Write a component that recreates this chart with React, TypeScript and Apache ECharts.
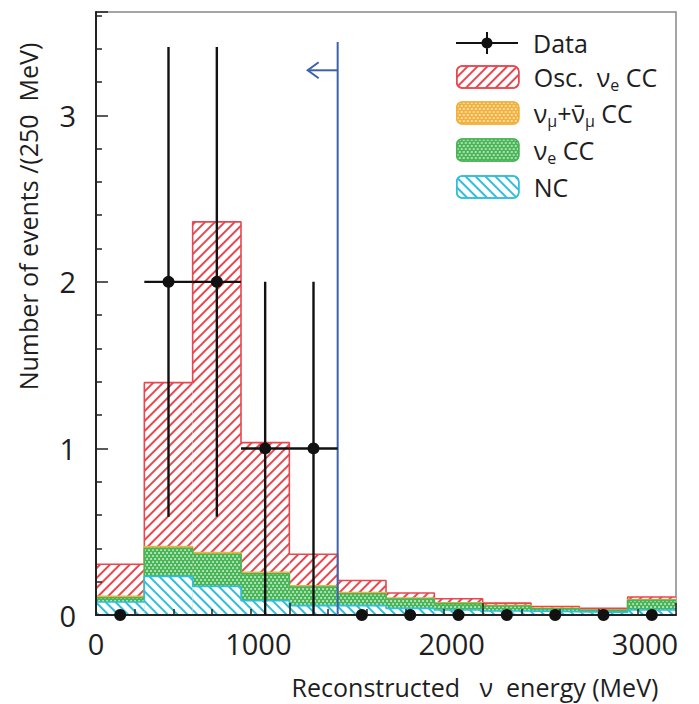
import React, { useEffect, useRef } from 'react';
import * as echarts from 'echarts';

// ---- data ----
const binStart = [0, 250, 500, 750, 1000, 1250, 1500, 1750, 2000, 2250, 2500, 2750];
const BIN = 250;
// cumulative (stacked) heights, events / 250 MeV
const oscTotal = [0.305, 1.395, 2.36, 1.035, 0.365, 0.207, 0.132, 0.098, 0.071, 0.051, 0.04, 0.108];
const numuTop = [0.112, 0.411, 0.375, 0.256, 0.176, 0.135, 0.102, 0.073, 0.058, 0.041, 0.031, 0.093];
const nueTop = [0.104, 0.4, 0.365, 0.248, 0.168, 0.128, 0.096, 0.068, 0.054, 0.037, 0.028, 0.088];
const ncTop = [0.078, 0.232, 0.172, 0.086, 0.056, 0.057, 0.04, 0.03, 0.024, 0.02, 0.016, 0.03];
const dataCounts = [0, 2, 2, 1, 1, 0, 0, 0, 0, 0, 0, 0];
const dataLow = [0, 0.59, 0.59, 0, 0, 0, 0, 0, 0, 0, 0, 0];
const dataHigh = [0, 3.41, 3.41, 2, 2, 0, 0, 0, 0, 0, 0, 0];
const cutEnergy = [1250];
const cutTop = [3.44];
const arrowLevel = [3.27];
const arrowTip = [1095];

const legendNames = ['Data', 'Osc. νe CC', 'νμ+ν̄μ CC', 'νe CC', 'NC'];
const legendLabels: Record<string, string> = {
  'Data': 'Data',
  'Osc. νe CC': 'Osc.  ν{s|e} CC',
  'νμ+ν̄μ CC': 'ν{s|μ}+ν\u0304{s|μ} CC',
  'νe CC': 'ν{s|e} CC',
  'NC': 'NC',
};

const FONT = '"Open Sans", "Noto Sans", "DejaVu Sans", sans-serif';
const TXT = '#1e1e1e';

const RED = '#e8474f';
const ORANGE = '#f2b13c';
const GREEN = '#48b656';
const CYAN = '#2fbedc';

function barData(vals: number[]) {
  return vals.map((v, i) => [binStart[i] + BIN / 2, v]);
}
function stepData(vals: number[]) {
  const pts: number[][] = vals.map((v, i) => [binStart[i], v]);
  const last = vals.length - 1;
  pts.push([binStart[last] + BIN, vals[last]]);
  return pts;
}

const hatch = (color: string, rot: number) => ({
  symbol: 'rect',
  symbolSize: 1,
  color,
  dashArrayX: [1, 0],
  dashArrayY: [1.6, 4.2],
  rotation: rot,
});
const dots = {
  symbol: 'circle',
  symbolSize: 0.9,
  color: 'rgba(255,255,255,0.75)',
  dashArrayX: [[2, 2], [0, 2, 2, 0]],
  dashArrayY: [2, 0.6],
  rotation: 0,
};

function histo(name: string, vals: number[], base: string, decal: any, line: string, z: number) {
  return [
    {
      name,
      type: 'bar',
      data: barData(vals),
      barWidth: '100%',
      barGap: '-100%',
      itemStyle: { color: base, decal },
      z,
      silent: true,
    },
    {
      name: name + ' outline',
      type: 'line',
      step: 'end',
      data: stepData(vals),
      showSymbol: false,
      lineStyle: { color: line, width: 1.6 },
      z: z + 1,
      silent: true,
    },
  ];
}

const legendTops = [27, 61, 97, 134, 171];

export default function App() {
  const ref = useRef<HTMLDivElement>(null);
  useEffect(() => {
    const chart = echarts.init(ref.current!, null, { renderer: 'svg' });
    const option: any = {
      animation: false,
      backgroundColor: '#fff',
      textStyle: { fontFamily: FONT },
      grid: { left: 96, right: 23, top: 12, bottom: 88, show: true, borderColor: '#888', borderWidth: 1.5, backgroundColor: 'transparent' },
      xAxis: {
        type: 'value',
        min: 0,
        max: 3000,
        interval: 1000,
        z: 20,
        name: 'Reconstructed   ν  energy (MeV)',
        nameLocation: 'middle',
        nameGap: 59,
        nameTextStyle: { fontSize: 25, color: TXT, fontFamily: FONT, padding: [0, 0, 0, 178] },
        axisLine: { lineStyle: { color: '#222', width: 2 } },
        axisTick: { inside: true, length: 12, lineStyle: { color: '#222', width: 1.5 } },
        minorTick: { show: true, splitNumber: 5, length: 6, lineStyle: { color: '#222', width: 1.5 } },
        splitLine: { show: false },
        axisLabel: {
          margin: 14,
          formatter: (v: number) => (v === 0 ? '{z|0}' : '{r|' + v + '}'),
          rich: {
            z: { fontSize: 29, color: TXT, fontFamily: FONT },
            r: { fontSize: 29, color: TXT, fontFamily: FONT, padding: [0, 62, 0, 0] },
          },
        },
      },
      yAxis: {
        type: 'value',
        min: 0,
        max: 3.62,
        interval: 1,
        z: 20,
        name: 'Number of events /(250  MeV)',
        nameLocation: 'middle',
        nameRotate: 90,
        nameGap: 56,
        nameTextStyle: { fontSize: 25, color: TXT, fontFamily: FONT, padding: [0, 0, 0, 194] },
        axisLine: { lineStyle: { color: '#222', width: 2 } },
        axisTick: { inside: true, length: 12, lineStyle: { color: '#222', width: 1.5 } },
        minorTick: { show: true, splitNumber: 5, length: 6, lineStyle: { color: '#222', width: 1.5 } },
        splitLine: { show: false },
        axisLabel: {
          margin: 20,
          fontSize: 29,
          color: TXT,
          fontFamily: FONT,
          showMaxLabel: false,
          formatter: (v: number) => (Number.isInteger(v) ? String(v) : ''),
        },
      },
      legend: legendNames.map((n, i) => ({
        selectedMode: false,
        left: 456,
        top: legendTops[i],
        orient: 'vertical',
        itemWidth: 62,
        itemHeight: 22,
        itemGap: 0,
        padding: 0,
        data: [
          i === 0
            ? { name: n, icon: 'path://M0,10H62V12H0Z M30,0H32V22H30Z M31,5.5A5.5,5.5 0 1,1 30.99,5.5Z', itemStyle: { color: '#111' } }
            : { name: n, itemStyle: { borderColor: [RED, RED, ORANGE, GREEN, CYAN][i], borderWidth: 1.5 } },
        ],
        formatter: (name: string) => legendLabels[name],
        textStyle: {
          fontSize: 25,
          color: TXT,
          fontFamily: FONT,
          lineHeight: 32,
          padding: [0, 0, 0, 10],
          rich: {
            s: { fontSize: 16, color: TXT, fontFamily: FONT, verticalAlign: 'bottom', lineHeight: 16 },
          },
        },
      })),
      series: [
        ...histo('Osc. νe CC', oscTotal, '#fff', hatch(RED, -Math.PI / 4), RED, 1),
        ...histo('νμ+ν̄μ CC', numuTop, ORANGE, dots, ORANGE, 3),
        ...histo('νe CC', nueTop, GREEN, dots, GREEN, 5),
        ...histo('NC', ncTop, '#fff', hatch(CYAN, Math.PI / 4), CYAN, 7),
        {
          name: 'Data',
          type: 'custom',
          z: 30,
          itemStyle: { color: '#111' },
          data: binStart.map((s, i) => [s + BIN / 2, dataCounts[i], dataLow[i], dataHigh[i]]),
          encode: { x: 0, y: 1 },
          renderItem: (params: any, api: any) => {
            const xc = api.value(0);
            const v = api.value(1);
            const lo = api.value(2);
            const hi = api.value(3);
            const c = api.coord([xc, v]);
            const children: any[] = [];
            if (hi > lo) {
              const a = api.coord([xc, lo]);
              const b = api.coord([xc, hi]);
              children.push({ type: 'line', shape: { x1: a[0], y1: a[1], x2: b[0], y2: b[1] }, style: { stroke: '#111', lineWidth: 2.4 } });
            }
            if (v > 0) {
              const l = api.coord([xc - BIN / 2, v]);
              const r = api.coord([xc + BIN / 2, v]);
              children.push({ type: 'line', shape: { x1: l[0], y1: l[1], x2: r[0], y2: r[1] }, style: { stroke: '#111', lineWidth: 2.4 } });
            }
            children.push({ type: 'circle', shape: { cx: c[0], cy: c[1], r: 6 }, style: { fill: '#111' } });
            return { type: 'group', children };
          },
        },
        {
          name: 'cut',
          type: 'custom',
          z: 25,
          data: cutEnergy.map((e, i) => [e, cutTop[i], arrowLevel[i], arrowTip[i]]),
          encode: { x: 0, y: 1 },
          renderItem: (params: any, api: any) => {
            const e = api.value(0);
            const b = api.coord([e, 0]);
            const t = api.coord([e, api.value(1)]);
            const s = api.coord([e, api.value(2)]);
            const tip = api.coord([api.value(3), api.value(2)]);
            const st = { stroke: '#3d62ad', lineWidth: 2 };
            return {
              type: 'group',
              children: [
                { type: 'line', shape: { x1: b[0], y1: b[1], x2: t[0], y2: t[1] }, style: st },
                { type: 'line', shape: { x1: s[0], y1: s[1], x2: tip[0], y2: tip[1] }, style: st },
                { type: 'polyline', shape: { points: [[tip[0] + 11, tip[1] - 8], [tip[0], tip[1]], [tip[0] + 11, tip[1] + 8]] }, style: { ...st, fill: 'none' } },
              ],
            };
          },
        },
      ],
    };
    chart.setOption(option);
    return () => chart.dispose();
  }, []);
  return (
    <div
      ref={ref}
      style={{ position: 'absolute', left: 0, top: 0, width: 699, height: 704, background: '#fff' }}
    />
  );
}
